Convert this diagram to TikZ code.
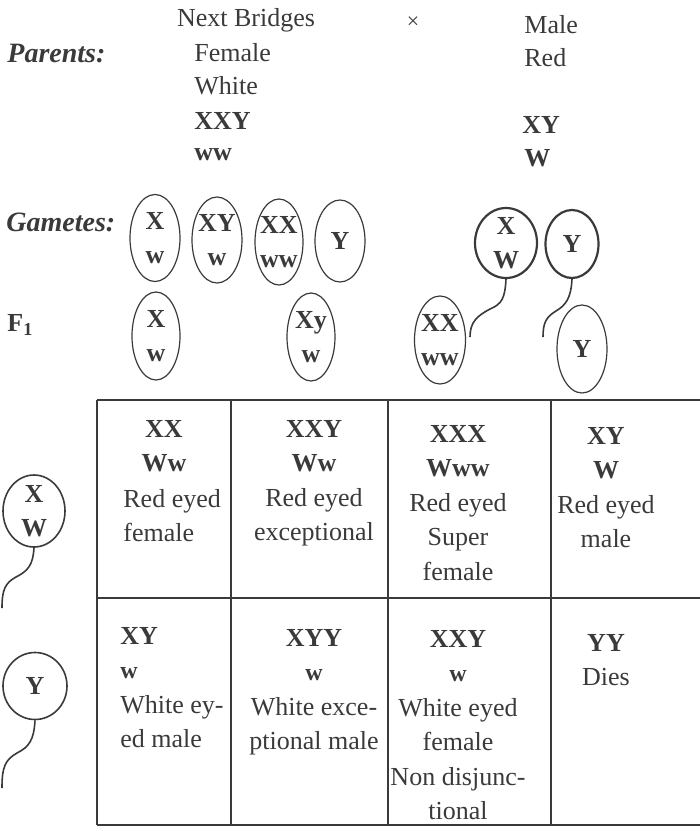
\documentclass[tikz,border=0pt]{standalone}
\usepackage{fontspec}
\setmainfont{Liberation Serif}
\usetikzlibrary{shapes.geometric}
\definecolor{inkcolor}{HTML}{3A3A3A}
\tikzset{
  txt/.style={inner sep=0pt,text=inkcolor,font=\fontsize{13}{17.25}\selectfont},
  lbl/.style={txt,anchor=west,font=\bfseries\itshape\fontsize{14}{17}\selectfont},
  gam/.style={draw=inkcolor,ellipse,inner sep=0pt,line width=0.6pt},
  gamtxt/.style={txt,align=center,font=\bfseries\fontsize{13}{17.25}\selectfont},
  cellbox/.style={txt,align=center},
  tail/.style={draw=inkcolor,line width=0.8pt},
  grid/.style={draw=inkcolor,line width=0.75pt},
}
\newcommand{\smw}[1]{{\bfseries\fontsize{12}{17.25}\selectfont #1}}
\begin{document}
\begin{tikzpicture}[x=0.5pt,y=-0.5pt]
\useasboundingbox (0,0) rectangle (700,831);
% parents
\node[txt] (title) at (246,20) {Next Bridges};
\node[txt,font=\fontsize{11}{13}\selectfont] (cross) at (413,23) {×};
\node[lbl] (parlbl) at (7,54) {Parents:};
\node[txt,anchor=west] (fem) at (194,53) {Female};\node[txt,anchor=west] (white) at (194,86) {White};
\node[txt,anchor=west,font=\bfseries\fontsize{13}{17}\selectfont] (fgeno) at (194,121) {XXY};
\node[txt,anchor=west,font=\bfseries\fontsize{13}{17}\selectfont] (falle) at (194,155) {ww};
\node[txt,anchor=west] (male) at (524,25) {Male};\node[txt,anchor=west] (red) at (524,58) {Red};
\node[txt,anchor=west,font=\bfseries\fontsize{13}{17}\selectfont] (mgeno) at (522,125) {XY};
\node[txt,anchor=west,font=\bfseries\fontsize{13}{17}\selectfont] (malle) at (524,158) {W};
% gametes
\node[lbl] (gamlbl) at (6,222) {Gametes:};
\node[gam,minimum width=25pt,minimum height=43.5pt,label={[gamtxt]center:{X\\w}}] (g1) at (155,238) {};
\node[gam,minimum width=25pt,minimum height=43pt,label={[gamtxt]center:{XY\\w}}] (g2) at (217,240) {};
\node[gam,minimum width=24pt,minimum height=43pt,label={[gamtxt]center:{XX\\ww}}] (g3) at (279,242) {};
\node[gam,minimum width=25pt,minimum height=41pt,label={[gamtxt]center:{Y}}] (g4) at (340,241) {};
\node[gam,line width=1.1pt,minimum width=31pt,minimum height=35pt,label={[gamtxt]center:{X\\W}}] (g5) at (506,243) {};
\node[gam,line width=1.1pt,minimum width=26.5pt,minimum height=34pt,label={[gamtxt]center:{Y}}] (g6) at (572,244) {};
% F1
\node[lbl,font=\bfseries\fontsize{13}{17}\selectfont] (f1lbl) at (7,325) {F\textsubscript{1}};
\node[gam,minimum width=24pt,minimum height=44pt,label={[gamtxt]center:{X\\w}}] (f1) at (156,336) {};
\node[gam,minimum width=24pt,minimum height=44pt,label={[gamtxt]center:{Xy\\w}}] (f2) at (311,337) {};
\node[gam,minimum width=25.5pt,minimum height=44pt,label={[gamtxt]center:{XX\\ww}}] (f3) at (440,340) {};
\node[gam,minimum width=25pt,minimum height=44pt,label={[gamtxt]center:{Y}}] (f4) at (582,349) {};
\coordinate (e5) at (470,337);\coordinate (e6) at (543,337);
\draw[tail] (g5.south) .. controls (505,298) and (502,304) .. (490,309) .. controls (477,316) and (470,322) .. (e5);
\draw[tail] (g6.south) .. controls (571,298) and (566,305) .. (556,311) .. controls (546,317) and (543,323) .. (e6);
% left gametes
\node[gam,line width=0.8pt,minimum width=31pt,minimum height=36pt,label={[gamtxt]center:{X\\W}}] (m1) at (34,511) {};
\node[gam,line width=0.8pt,minimum width=32pt,minimum height=33.5pt,label={[gamtxt]center:{Y}}] (m2) at (35,686) {};
\coordinate (e7) at (2,608);\coordinate (e8) at (2,788);
\draw[tail] (m1.south) .. controls (33,565) and (28,571) .. (16,577) .. controls (5,583) and (2,590) .. (e7);
\draw[tail] (m2.south) .. controls (34,740) and (29,747) .. (17,753) .. controls (5,760) and (2,767) .. (e8);
% checkerboard
\draw[grid] (97,400) -- (700,400) (97,598) -- (700,598) (97,825) -- (700,825);
\foreach \cx in {97,231,388,551}{\draw[grid] (\cx,400) -- (\cx,825);}
\node[cellbox,anchor=north] (c11a) at (164,420) {\textbf{XX}\\\textbf{Ww}};
\node[cellbox,anchor=north west,align=left] (c11b) at (123,489) {Red eyed\\female};
\node[cellbox,anchor=north] (c12) at (314,420) {\textbf{XXY}\\\textbf{Ww}\\Red eyed\\exceptional};
\node[cellbox,anchor=north] (c13) at (458,425) {\textbf{XXX}\\\textbf{Www}\\Red eyed\\Super\\female};
\node[cellbox,anchor=north] (c14) at (606,427) {\textbf{XY}\\\textbf{W}\\Red eyed\\male};
\node[cellbox,anchor=north west,align=left] (c21) at (120,627) {\textbf{XY}\\\smw{w}\\White ey-\\ed male};
\node[cellbox,anchor=north] (c22) at (314,629) {\textbf{XYY}\\\smw{w}\\White exce-\\ptional male};
\node[cellbox,anchor=north] (c23) at (458,630) {\textbf{XXY}\\\smw{w}\\White eyed\\female\\Non disjunc-\\tional};
\node[cellbox,anchor=north] (c24) at (606,634) {\textbf{YY}\\Dies};
\end{tikzpicture}
\end{document}
